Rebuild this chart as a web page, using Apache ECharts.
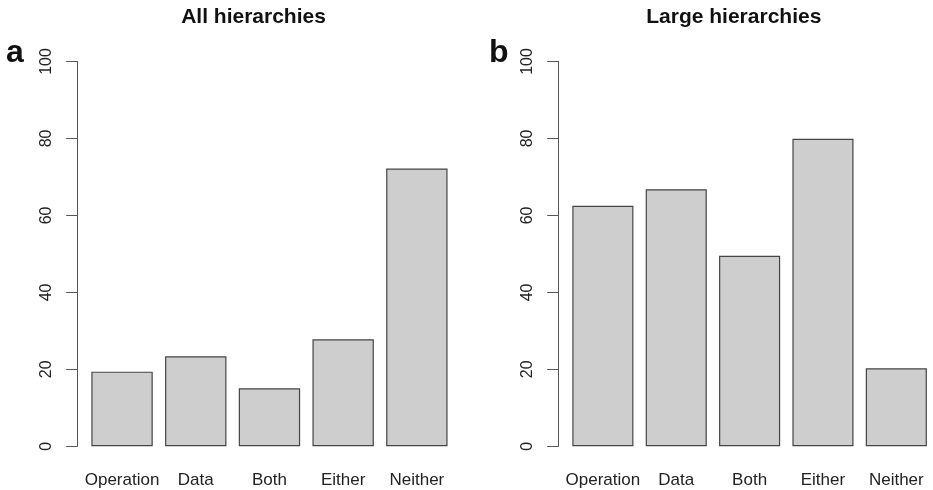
<!DOCTYPE html>
<html>
<head>
<meta charset="utf-8">
<script src="https://cdn.jsdelivr.net/npm/echarts@6/dist/echarts.min.js"></script>
<style>
  html, body { margin: 0; padding: 0; background: #fff; }
  #chart { width: 933px; height: 490px; }
</style>
</head>
<body>
<div id="chart"></div>
<script>
// Share of hierarchies (%) by kind of change
const categories = ['Operation', 'Data', 'Both', 'Either', 'Neither'];
const allHierarchies = [19.4, 23.4, 15.1, 27.8, 72.2];
const largeHierarchies = [62.5, 66.8, 49.5, 79.9, 20.3];
const panelTitles = ['All hierarchies', 'Large hierarchies'];
const panelLetters = ['a', 'b'];
const yMin = 0, yMax = 100, yStep = 20;

const FONT = '"Liberation Sans", Arial, Helvetica, sans-serif';
const chart = echarts.init(document.getElementById('chart'), null, { renderer: 'canvas' });

const grids = [
  { left: 85.2, top: 61.5, width: 368.5, height: 384.8 },
  { left: 566.2, top: 61.5, width: 368.5, height: 384.8 }
];

function yAxisFor(i) {
  return {
    type: 'value', gridIndex: i, min: yMin, max: yMax, interval: yStep,
    offset: 8,
    splitLine: { show: false },
    axisLine: { show: true, lineStyle: { color: '#555', width: 1 } },
    axisTick: { show: true, length: 11, lineStyle: { color: '#555', width: 1 } },
    axisLabel: {
      rotate: 90, margin: 23, align: 'center', verticalAlign: 'bottom',
      color: '#222', fontSize: 16, fontFamily: FONT
    }
  };
}

function xAxisFor(i) {
  return {
    type: 'category', gridIndex: i, data: categories, boundaryGap: true,
    axisLine: { show: false }, axisTick: { show: false },
    axisLabel: { color: '#222', fontSize: 17, fontFamily: FONT, margin: 26, interval: 0 }
  };
}

function seriesFor(i, values) {
  return {
    type: 'bar', xAxisIndex: i, yAxisIndex: i, data: values,
    barCategoryGap: '16.7%', silent: true,
    itemStyle: { color: '#cdcecd', borderColor: '#454545', borderWidth: 1.2 }
  };
}

const titleCenters = [253.5, 733.8];
const letterLefts = [6, 489];
const graphics = [];
panelTitles.forEach((t, i) => {
  graphics.push({
    type: 'text', x: titleCenters[i], y: 17,
    style: { text: t, fill: '#111', font: 'bold 21px ' + FONT, textAlign: 'center', textVerticalAlign: 'middle' }
  });
});
panelLetters.forEach((t, i) => {
  graphics.push({
    type: 'text', x: letterLefts[i], y: 37,
    style: { text: t, fill: '#111', font: 'bold 32px ' + FONT, textAlign: 'left', textVerticalAlign: 'alphabetic' }
  });
});

chart.setOption({
  animation: false,
  backgroundColor: '#fff',
  grid: grids,
  xAxis: [xAxisFor(0), xAxisFor(1)],
  yAxis: [yAxisFor(0), yAxisFor(1)],
  series: [seriesFor(0, allHierarchies), seriesFor(1, largeHierarchies)],
  graphic: graphics
});
</script>
</body>
</html>
